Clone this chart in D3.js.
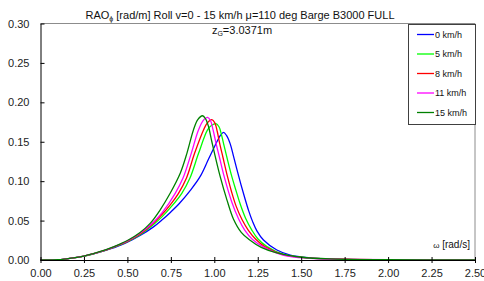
<!DOCTYPE html>
<html>
<head>
<meta charset="utf-8">
<script src="https://cdn.jsdelivr.net/npm/d3@7"></script>
<style>
  body { margin: 0; background: #fff; }
  svg { font-family: "Liberation Sans", Arial, sans-serif; }
</style>
</head>
<body>
<div id="vis"></div>
<script>
// Frame
const FRAME_WIDTH = 484;
const FRAME_HEIGHT = 281;
const MARGINS = { left: 40.5, right: 9, top: 23.5, bottom: 21 };

const VIS_WIDTH = FRAME_WIDTH - MARGINS.left - MARGINS.right;
const VIS_HEIGHT = FRAME_HEIGHT - MARGINS.top - MARGINS.bottom;

// Data
const X_TICKS = [0, 0.25, 0.5, 0.75, 1.0, 1.25, 1.5, 1.75, 2.0, 2.25, 2.5];
const Y_TICKS = [0, 0.05, 0.10, 0.15, 0.20, 0.25, 0.30];

const SPEEDS = ["0 km/h", "5 km/h", "8 km/h", "11 km/h", "15 km/h"];
const COLORS = ["#0000ff", "#00ff00", "#ff0000", "#ff00ff", "#008000"];

const W_0 = [0, 0.1, 0.15, 0.2, 0.25, 0.3, 0.35, 0.4, 0.45, 0.5, 0.573, 0.65, 0.7, 0.75, 0.8, 0.861, 0.919, 0.967, 1.015, 1.035, 1.053, 1.07, 1.092, 1.11, 1.13, 1.153, 1.175, 1.197, 1.22, 1.245, 1.283, 1.36, 1.437, 1.55, 1.7, 2.0, 2.5];
const RAO_0 = [0, 0.0003, 0.0015, 0.003, 0.005, 0.0075, 0.0105, 0.014, 0.018, 0.0225, 0.031, 0.042, 0.051, 0.061, 0.072, 0.088, 0.106, 0.128, 0.15, 0.158, 0.162, 0.158, 0.147, 0.132, 0.115, 0.096, 0.079, 0.063, 0.049, 0.037, 0.0254, 0.0127, 0.0063, 0.0028, 0.001, 0.0003, 0];

const W_5 = [0, 0.1, 0.15, 0.2, 0.25, 0.3, 0.35, 0.4, 0.45, 0.5, 0.573, 0.65, 0.7, 0.75, 0.813, 0.86, 0.909, 0.961, 0.985, 1.009, 1.027, 1.04, 1.053, 1.075, 1.101, 1.125, 1.149, 1.18, 1.216, 1.25, 1.303, 1.4, 1.55, 1.75, 2.0, 2.5];
const RAO_5 = [0, 0.0003, 0.0015, 0.003, 0.005, 0.0076, 0.0107, 0.0143, 0.0185, 0.0232, 0.032, 0.045, 0.055, 0.067, 0.0846, 0.104, 0.135, 0.165, 0.171, 0.173, 0.169, 0.16, 0.148, 0.128, 0.1057, 0.088, 0.071, 0.053, 0.038, 0.027, 0.017, 0.007, 0.0025, 0.001, 0.0003, 0];

const W_8 = [0, 0.1, 0.15, 0.2, 0.25, 0.3, 0.35, 0.4, 0.45, 0.5, 0.573, 0.65, 0.7, 0.75, 0.794, 0.84, 0.886, 0.938, 0.96, 0.986, 1.003, 1.017, 1.03, 1.05, 1.076, 1.1, 1.126, 1.16, 1.195, 1.24, 1.29, 1.4, 1.55, 1.75, 2.0, 2.5];
const RAO_8 = [0, 0.0003, 0.0015, 0.003, 0.005, 0.0077, 0.0108, 0.0145, 0.0188, 0.0237, 0.033, 0.047, 0.058, 0.071, 0.0846, 0.104, 0.135, 0.165, 0.174, 0.178, 0.174, 0.163, 0.149, 0.13, 0.1057, 0.086, 0.068, 0.051, 0.038, 0.026, 0.017, 0.0065, 0.0025, 0.001, 0.0003, 0];

const W_11 = [0, 0.1, 0.15, 0.2, 0.25, 0.3, 0.35, 0.4, 0.45, 0.5, 0.573, 0.65, 0.7, 0.775, 0.82, 0.867, 0.909, 0.94, 0.961, 0.978, 0.993, 1.009, 1.03, 1.057, 1.1, 1.14, 1.175, 1.22, 1.28, 1.4, 1.55, 1.75, 2.0, 2.5];
const RAO_11 = [0, 0.0003, 0.0015, 0.003, 0.005, 0.0078, 0.011, 0.0148, 0.0192, 0.0242, 0.034, 0.048, 0.06, 0.0846, 0.104, 0.135, 0.165, 0.178, 0.181, 0.177, 0.165, 0.149, 0.13, 0.1057, 0.074, 0.052, 0.038, 0.026, 0.017, 0.006, 0.0022, 0.0009, 0.0003, 0];

const W_15 = [0, 0.1, 0.15, 0.2, 0.25, 0.3, 0.35, 0.4, 0.45, 0.5, 0.573, 0.631, 0.688, 0.746, 0.804, 0.842, 0.88, 0.905, 0.932, 0.95, 0.967, 0.986, 1.034, 1.073, 1.11, 1.155, 1.2, 1.27, 1.36, 1.5, 1.7, 2.0, 2.5];
const RAO_15 = [0, 0.0003, 0.0015, 0.003, 0.005, 0.0079, 0.0112, 0.015, 0.0196, 0.0248, 0.035, 0.0465, 0.0634, 0.0846, 0.11, 0.135, 0.165, 0.178, 0.183, 0.179, 0.169, 0.15, 0.1057, 0.076, 0.052, 0.035, 0.026, 0.016, 0.009, 0.0035, 0.0012, 0.0003, 0];

const OMEGAS = [W_0, W_5, W_8, W_11, W_15];
const RAOS = [RAO_0, RAO_5, RAO_8, RAO_11, RAO_15];

// Svg frame
const FRAME = d3.select("#vis")
    .append("svg")
    .attr("width", FRAME_WIDTH)
    .attr("height", FRAME_HEIGHT);

const X_SCALE = d3.scaleLinear()
    .domain([0, 2.5])
    .range([MARGINS.left, MARGINS.left + VIS_WIDTH]);

const Y_SCALE = d3.scaleLinear()
    .domain([0, 0.3])
    .range([MARGINS.top + VIS_HEIGHT, MARGINS.top]);

// Gray top and right border
FRAME.append("path")
    .attr("d", "M" + X_SCALE(0) + "," + Y_SCALE(0.3) + "H" + X_SCALE(2.5) + "V" + Y_SCALE(0))
    .attr("fill", "none")
    .attr("stroke", "#8c8c8c")
    .attr("stroke-width", 1);

// Curves
const line = d3.line()
    .x((d) => X_SCALE(d[0]))
    .y((d) => Y_SCALE(d[1]))
    .curve(d3.curveCatmullRom.alpha(0.5));

SPEEDS.forEach((s, i) => {
    const pts = OMEGAS[i].map((w, j) => [w, RAOS[i][j]]);
    FRAME.append("path")
        .datum(pts)
        .attr("d", line)
        .attr("fill", "none")
        .attr("stroke", COLORS[i])
        .attr("stroke-width", 1.3);
});

// Y axis
const yAxis = FRAME.append("g")
    .attr("transform", "translate(" + MARGINS.left + ",0)")
    .call(d3.axisLeft(Y_SCALE).tickValues(Y_TICKS).tickFormat(d3.format(".2f"))
        .tickSizeInner(4).tickSizeOuter(0).tickPadding(7));
yAxis.selectAll(".tick line").attr("x2", 4);
yAxis.selectAll("text").attr("font-size", "11px").attr("fill", "#222");
yAxis.select(".domain").attr("stroke", "#000");

// X axis
const xAxis = FRAME.append("g")
    .attr("transform", "translate(0," + Y_SCALE(0) + ")")
    .call(d3.axisBottom(X_SCALE).tickValues(X_TICKS).tickFormat(d3.format(".2f"))
        .tickSizeInner(3).tickSizeOuter(0).tickPadding(6));
xAxis.selectAll(".tick line").attr("y1", -3);
xAxis.selectAll("text").attr("font-size", "11px").attr("fill", "#222");
xAxis.select(".domain").attr("stroke", "#000");

// Title
const title = FRAME.append("text")
    .attr("x", 240)
    .attr("y", 19)
    .attr("text-anchor", "middle")
    .attr("font-size", "11px")
    .attr("fill", "#111");
title.append("tspan").text("RAO");
title.append("tspan").attr("font-size", "7px").attr("dy", 2).text("ϕ");
title.append("tspan").attr("dy", -2).text(" [rad/m] Roll v=0 - 15 km/h μ=110 deg Barge B3000 FULL");

const sub = FRAME.append("text")
    .attr("x", 242)
    .attr("y", 34)
    .attr("text-anchor", "middle")
    .attr("font-size", "11px")
    .attr("fill", "#111");
sub.append("tspan").text("z");
sub.append("tspan").attr("font-size", "7px").attr("dy", 2).text("G");
sub.append("tspan").attr("dy", -2).text("=3.0371m");

// Axis label
FRAME.append("text")
    .attr("x", 470)
    .attr("y", 248)
    .attr("text-anchor", "end")
    .attr("font-size", "10px")
    .attr("fill", "#111")
    .html('<tspan font-size="8px">ω</tspan> [rad/s]');

// Legend
const LEG = { x: 408, y: 24, w: 67, h: 100 };
FRAME.append("rect")
    .attr("x", LEG.x + 0.5)
    .attr("y", LEG.y + 0.5)
    .attr("width", LEG.w)
    .attr("height", LEG.h)
    .attr("fill", "#fff")
    .attr("stroke", "#404040")
    .attr("stroke-width", 1);

SPEEDS.forEach((s, i) => {
    const yy = LEG.y + 10.5 + i * 19.5;
    FRAME.append("line")
        .attr("x1", LEG.x + 9)
        .attr("x2", LEG.x + 26)
        .attr("y1", yy)
        .attr("y2", yy)
        .attr("stroke", COLORS[i])
        .attr("stroke-width", 1.3);
    FRAME.append("text")
        .attr("x", LEG.x + 27)
        .attr("y", yy + 3)
        .attr("font-size", "9px")
        .attr("fill", "#111")
        .text(s);
});
</script>
</body>
</html>
